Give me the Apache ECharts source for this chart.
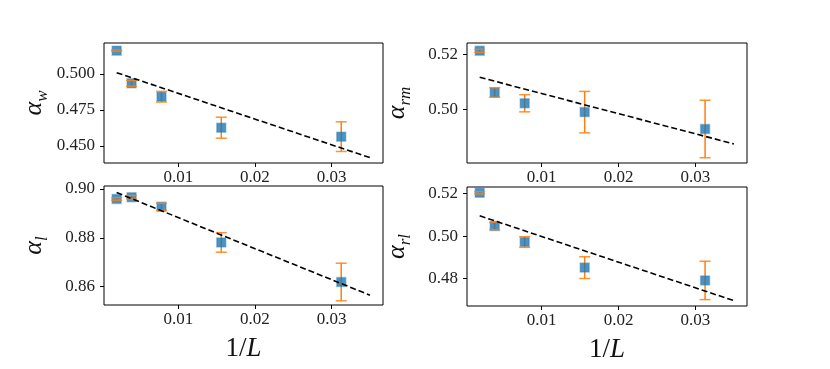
<!DOCTYPE html>
<html>
<head>
<meta charset="utf-8">
<script src="https://cdn.jsdelivr.net/npm/echarts@6/dist/echarts.min.js"></script>
<style>
html, body { margin: 0; padding: 0; background: #fff; }
#chart { width: 830px; height: 369px; }
</style>
</head>
<body>
<div id="chart"></div>
<script>
// x values (1/L) shared by all panels
var invL = [0.00195, 0.0039, 0.0078, 0.0156, 0.03125];
var fitX = [0.00195, 0.035];
var xTicks = [0.01, 0.02, 0.03];

// alpha_w
var alphaW = [0.5162, 0.4935, 0.4842, 0.4627, 0.4565];
var errW = [0.0005, 0.0020, 0.0037, 0.0073, 0.0103];
var fitW = [0.5009, 0.4419];
var ticksW = [0.450, 0.475, 0.500];

// alpha_rm
var alphaRm = [0.5212, 0.5061, 0.5022, 0.4990, 0.4929];
var errRm = [0.0005, 0.0017, 0.0031, 0.0075, 0.0104];
var fitRm = [0.5116, 0.4875];
var ticksRm = [0.50, 0.52];

// alpha_l
var alphaL = [0.8959, 0.8966, 0.8927, 0.8781, 0.8619];
var errL = [0.0005, 0.0007, 0.0014, 0.0040, 0.0077];
var fitL = [0.8985, 0.8565];
var ticksL = [0.86, 0.88, 0.90];

// alpha_rl
var alphaRl = [0.5203, 0.5047, 0.4972, 0.4852, 0.4792];
var errRl = [0.0005, 0.0017, 0.0025, 0.0051, 0.0090];
var fitRl = [0.5095, 0.4697];
var ticksRl = [0.48, 0.50, 0.52];

var FONT = 'Liberation Serif';
var BLUE = '#1f77b4';
var ORANGE = '#ff7f0e';

var panels = [
    { y: alphaW, err: errW, fit: fitW, ticks: ticksW, dec: 3, sub: 'w', min: 0.4382, max: 0.5215,
      grid: { left: 104, top: 43, width: 279, height: 120 }, xname: false },
    { y: alphaRm, err: errRm, fit: fitRm, ticks: ticksRm, dec: 2, sub: 'rm', min: 0.4806, max: 0.5240,
      grid: { left: 467, top: 43, width: 280, height: 120 }, xname: false },
    { y: alphaL, err: errL, fit: fitL, ticks: ticksL, dec: 2, sub: 'l', min: 0.8525, max: 0.9012,
      grid: { left: 104, top: 186, width: 279, height: 119 }, xname: true },
    { y: alphaRl, err: errRl, fit: fitRl, ticks: ticksRl, dec: 2, sub: 'rl', min: 0.4672, max: 0.5230,
      grid: { left: 467, top: 187, width: 280, height: 119 }, xname: true }
];

var grids = [], xAxes = [], yAxes = [], series = [];

function stemItem(params, api) {
    var top = api.coord([api.value(0), api.value(2)]);
    var bot = api.coord([api.value(0), api.value(1)]);
    return {
        type: 'line',
        shape: { x1: top[0], y1: top[1], x2: bot[0], y2: bot[1] },
        style: { stroke: ORANGE, lineWidth: 1.5 }
    };
}
function capItem(params, api) {
    var top = api.coord([api.value(0), api.value(2)]);
    var bot = api.coord([api.value(0), api.value(1)]);
    var w = 5.5;
    return {
        type: 'group',
        children: [
            { type: 'line', shape: { x1: top[0] - w, y1: top[1], x2: top[0] + w, y2: top[1] },
              style: { stroke: ORANGE, lineWidth: 1.5, opacity: 0.85 } },
            { type: 'line', shape: { x1: bot[0] - w, y1: bot[1], x2: bot[0] + w, y2: bot[1] },
              style: { stroke: ORANGE, lineWidth: 1.5, opacity: 0.85 } }
        ]
    };
}

panels.forEach(function (p, i) {
    grids.push(Object.assign({ show: true, borderColor: '#000', borderWidth: 1, backgroundColor: 'transparent' }, p.grid));
    xAxes.push({
        type: 'value', gridIndex: i, min: 0.0003, max: 0.0367,
        splitLine: { show: false },
        axisLine: { show: false },
        axisTick: { show: true, length: 4, customValues: xTicks, lineStyle: { color: '#000' } },
        axisLabel: { customValues: xTicks, margin: 6, color: '#222', fontFamily: FONT, fontSize: 17,
            formatter: function (v) { return v.toFixed(2); } },
        name: p.xname ? '{n|1/}{i|L}' : '',
        nameLocation: 'middle', nameGap: 30,
        nameTextStyle: { rich: {
            n: { fontFamily: FONT, fontSize: 27, color: '#111' },
            i: { fontFamily: FONT, fontSize: 27, fontStyle: 'italic', color: '#111' }
        } }
    });
    yAxes.push({
        type: 'value', gridIndex: i, min: p.min, max: p.max,
        splitLine: { show: false },
        axisLine: { show: false },
        axisTick: { show: true, length: 4, customValues: p.ticks, lineStyle: { color: '#000' } },
        axisLabel: { customValues: p.ticks, margin: 9, color: '#222', fontFamily: FONT, fontSize: 17,
            formatter: (function (d) { return function (v) { return v.toFixed(d); }; })(p.dec) },
        name: '{a|α}{s|' + p.sub + '}',
        nameLocation: 'middle', nameGap: 57, nameRotate: 90,
        nameTextStyle: { rich: {
            a: { fontFamily: FONT, fontSize: 26, fontStyle: 'italic', color: '#111', verticalAlign: 'bottom', lineHeight: 26 },
            s: { fontFamily: FONT, fontSize: 17, fontStyle: 'italic', color: '#111', verticalAlign: 'bottom', padding: [0, 0, -4, 0], lineHeight: 26 }
        } }
    });

    var pts = [], bars = [];
    for (var k = 0; k < invL.length; k++) {
        pts.push([invL[k], p.y[k]]);
        bars.push([invL[k], p.y[k] - p.err[k], p.y[k] + p.err[k]]);
    }
    series.push({
        type: 'custom', xAxisIndex: i, yAxisIndex: i, z: 2, silent: true,
        renderItem: stemItem, encode: { x: 0, y: [1, 2] }, data: bars
    });
    series.push({
        type: 'scatter', xAxisIndex: i, yAxisIndex: i, z: 3, silent: true,
        symbol: 'rect', symbolSize: 9,
        itemStyle: { color: BLUE, borderColor: 'rgba(31,119,180,0.45)', borderWidth: 1.5 },
        data: pts
    });
    series.push({
        type: 'custom', xAxisIndex: i, yAxisIndex: i, z: 4, silent: true,
        renderItem: capItem, encode: { x: 0, y: [1, 2] }, data: bars
    });
    series.push({
        type: 'line', xAxisIndex: i, yAxisIndex: i, z: 5, silent: true,
        symbol: 'none',
        lineStyle: { color: '#000', width: 1.6, type: [6, 3] },
        data: [[fitX[0], p.fit[0]], [fitX[1], p.fit[1]]]
    });
});

var chart = echarts.init(document.getElementById('chart'));
chart.setOption({
    animation: false,
    backgroundColor: '#fff',
    grid: grids,
    xAxis: xAxes,
    yAxis: yAxes,
    series: series
});
</script>
</body>
</html>
